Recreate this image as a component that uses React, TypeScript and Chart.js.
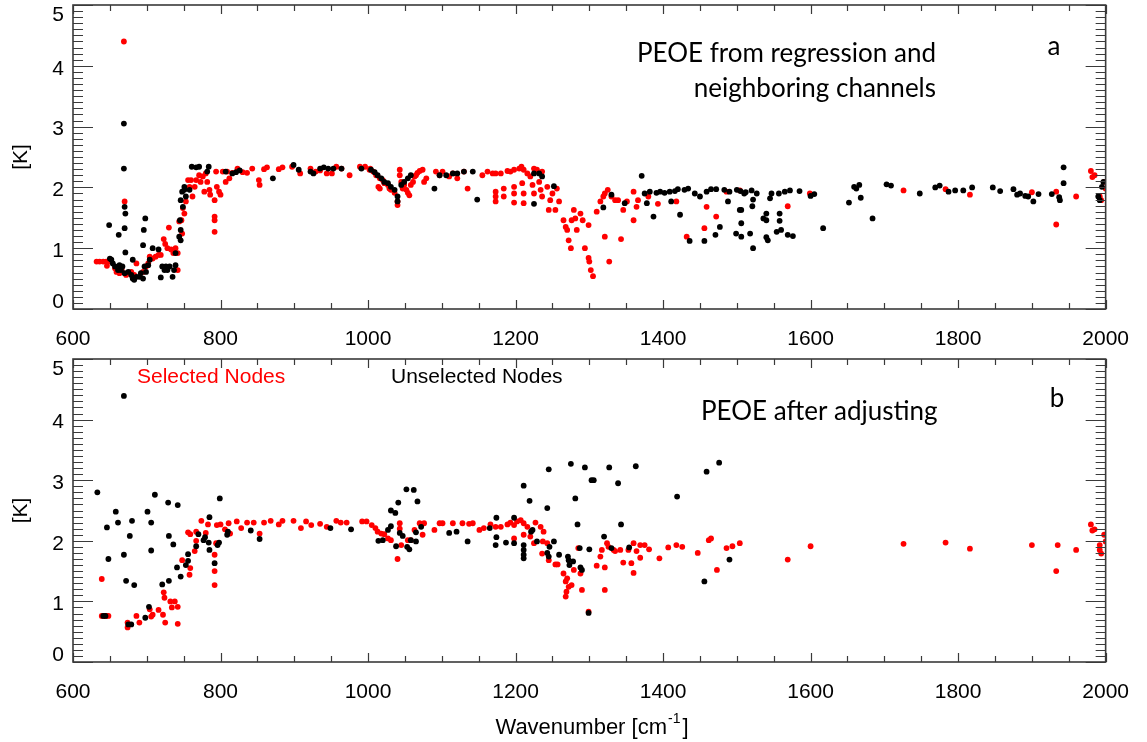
import React, { useEffect, useRef } from 'react';
import { Chart, registerables } from 'chart.js';

Chart.register(...registerables);

// ---------- axis ticks ----------
const X_TICKS = [600, 800, 1000, 1200, 1400, 1600, 1800, 2000];
const Y_TICKS = [0, 1, 2, 3, 4, 5];

// ---------- panel a: PEOE from regression and neighboring channels ----------
const TOP_RED_X = [
  632, 636, 641, 645, 650, 646, 657, 659, 663, 672, 679, 683, 686, 695, 699, 702, 704, 708, 712, 716,
  719, 723, 725, 728, 730, 733, 736, 739, 742, 742, 744, 747, 748, 749, 751, 753, 756, 758, 760, 762,
  765, 767, 771, 773, 776, 778, 780, 782, 785, 786, 792, 792, 792, 792, 794, 795, 798, 800, 803, 807,
  809, 812, 816, 823, 830, 836, 843, 852, 853, 859, 863, 879, 884, 897, 908, 922, 929, 935, 944, 951,
  957, 964, 975, 989, 996, 1003, 1014, 669, 670, 666,
  1002, 1007, 1011, 1016, 1016, 1020, 1022, 1027, 1029, 1031, 1036, 1040, 1040, 1043, 1043, 1045, 1047, 1049, 1052, 1054,
  1056, 1058, 1061, 1063, 1065, 1067, 1070, 1074, 1076, 1079, 1092, 1097, 1101, 1110, 1115, 1121, 1130, 1135, 1155, 1162,
  1169, 1173, 1180, 1189, 1193, 1198, 1205, 1208, 1211, 1216, 1225, 1229, 1236, 1173, 1173, 1173, 1184, 1184, 1198, 1198,
  1198, 1209, 1211, 1211, 1220, 1223, 1225, 1232, 1234, 1236, 1243, 1245, 1247, 1250, 1256, 1259, 1254,
  1265, 1268, 1270, 1272, 1275, 1276, 1279, 1281, 1283, 1288, 1291, 1294, 1299, 1299, 1300, 1302, 1305,
  1310, 1315, 1319, 1321, 1321, 1325, 1327, 1330, 1335, 1339, 1343, 1346, 1351, 1360, 1360, 1364, 1366, 1380, 1393, 1418,
  1432, 1456, 1459, 1472, 1486,
  1504, 1569, 1599, 1726, 1783, 1816, 1900, 1933, 1933, 1960, 1980, 1982, 1985, 1992, 1994, 1998, 2000
];
const TOP_RED_Y = [
  0.78, 0.78, 0.78, 0.78, 0.78, 0.71, 0.67, 0.61, 0.59, 0.56, 0.61, 0.56, 0.75, 0.61, 0.70, 0.75, 0.86, 0.83, 0.86, 0.89,
  0.89, 1.15, 1.07, 1.00, 1.34, 0.98, 0.92, 1.00, 0.92, 0.64, 1.44, 1.46, 1.24, 1.66, 1.57, 1.77, 2.12, 2.01, 2.12, 1.85,
  2.01, 2.12, 2.20, 2.09, 2.18, 1.93, 2.23, 2.09, 1.96, 1.88, 1.79, 1.52, 1.46, 1.27, 2.26, 2.01, 1.93, 1.88, 2.26, 2.09,
  2.26, 2.15, 2.24, 2.31, 2.25, 2.24, 2.31, 2.12, 2.04, 2.30, 2.33, 2.30, 2.33, 2.34, 2.23, 2.31, 2.26, 2.28, 2.23, 2.23,
  2.34, 2.31, 2.20, 2.34, 2.34, 2.31, 2.01, 4.40, 1.77, 0.65,
  2.29, 2.26, 2.20, 2.15, 1.98, 2.12, 2.07, 2.04, 1.98, 1.96, 1.91, 1.71, 1.77, 2.29, 2.20, 2.09, 1.98, 2.04, 1.96, 1.91,
  1.87, 2.04, 2.09, 2.18, 2.20, 2.24, 2.27, 2.29, 2.09, 2.15, 2.26, 2.20, 2.26, 2.18, 2.23, 2.15, 2.26, 1.98, 2.20, 2.26,
  2.23, 2.23, 2.23, 2.27, 2.26, 2.29, 2.31, 2.34, 2.29, 2.23, 2.31, 2.29, 2.26, 1.93, 1.85, 1.77, 1.98, 1.85, 2.01, 1.90,
  1.75, 2.07, 1.90, 1.74, 2.18, 2.04, 1.90, 2.09, 1.96, 1.85, 2.01, 1.63, 1.79, 1.90, 1.98, 1.77, 1.63,
  1.46, 1.35, 1.30, 1.13, 1.00, 1.46, 1.63, 1.49, 1.30, 1.57, 1.46, 1.00, 1.38, 0.84, 0.78, 0.64, 0.54,
  1.60, 1.77, 1.85, 1.90, 1.19, 1.96, 0.78, 1.85, 1.79, 1.79, 1.15, 1.63, 1.77, 1.93, 1.46, 1.68, 1.79, 1.85, 1.73, 1.77,
  1.19, 1.33, 1.68, 1.52, 1.93,
  1.95, 1.69, 1.90, 1.95, 1.97, 1.88, 1.92, 1.93, 1.39, 1.85, 2.27, 2.17, 2.20, 1.85, 1.79, 2.09, 1.98
];
const TOP_BLACK_X = [
  650, 652, 654, 657, 661, 663, 665, 667, 670, 675, 679, 681, 683, 686, 681, 690, 692, 695, 697, 699,
  702, 704, 649, 662, 669, 669, 670, 671, 670, 671, 698, 696, 695, 708, 716, 719, 721, 724, 726, 728,
  731, 735, 737, 739, 739, 744, 746, 746, 745, 746, 748, 751, 749, 751, 753, 758, 761, 767, 771, 784,
  782, 807, 816, 821, 826, 871, 899, 906, 922, 926, 935, 940, 946, 953, 964, 991,
  1004, 1009, 1013, 1018, 1022, 1027, 1031, 1036, 1040, 1040, 1045, 1049, 1054, 1058, 1090, 1097, 1106, 1115, 1121, 1130,
  1142, 1148, 1225, 1225, 1232, 1236, 1252, 1319, 1330, 1348, 1371, 1375, 1378, 1387, 1382, 1391, 1396, 1402, 1409, 1411,
  1416, 1420, 1423, 1429, 1434, 1436, 1443, 1450, 1456, 1459, 1465, 1471, 1472, 1477, 1483, 1488, 1490, 1499, 1506, 1506,
  1506, 1510,
  1500, 1505, 1512, 1520, 1527, 1504, 1518, 1522, 1522, 1521, 1536, 1540, 1540, 1540, 1542, 1545, 1547, 1557, 1558, 1558,
  1554, 1560, 1569, 1576, 1565, 1572, 1585, 1600, 1605, 1617, 1652, 1659, 1662, 1666, 1668, 1684, 1703, 1709, 1748, 1769,
  1775, 1787, 1796, 1807, 1819, 1847, 1857, 1875, 1880, 1884, 1891, 1895, 1902, 1909, 1927, 1937, 1938, 1943, 1943, 1990,
  1992, 1995, 1997
];
const TOP_BLACK_Y = [
  0.83, 0.81, 0.75, 0.70, 0.64, 0.72, 0.64, 0.70, 0.59, 0.61, 0.56, 0.50, 0.48, 0.53, 0.81, 0.53, 0.59, 0.50, 0.70, 0.61,
  0.72, 0.81, 1.38, 1.22, 3.05, 2.31, 1.68, 1.57, 1.33, 0.93, 1.49, 1.30, 1.05, 1.00, 0.98, 0.52, 0.70, 0.64, 0.70, 0.64,
  0.70, 0.53, 0.64, 0.72, 0.92, 1.19, 1.13, 1.30, 1.46, 1.79, 1.93, 1.96, 1.68, 2.01, 1.85, 1.96, 2.34, 2.33, 2.34, 2.34,
  2.26, 2.26, 2.23, 2.25, 2.28, 2.15, 2.37, 2.29, 2.26, 2.23, 2.31, 2.33, 2.31, 2.31, 2.31, 2.31,
  2.29, 2.25, 2.20, 2.15, 2.09, 2.07, 2.01, 1.96, 1.85, 1.77, 2.04, 2.09, 2.15, 2.20, 1.98, 2.20, 2.20, 2.23, 2.23, 2.26,
  2.26, 1.80, 1.73, 2.23, 2.23, 2.18, 2.02, 1.67, 1.88, 1.74, 2.19, 1.90, 1.74, 1.52, 1.93, 1.91, 1.93, 1.91, 1.93, 1.77,
  1.94, 1.97, 1.55, 1.96, 1.98, 1.12, 1.90, 1.85, 1.12, 1.93, 1.97, 1.22, 1.97, 1.35, 1.96, 1.77, 1.93, 1.24, 1.63, 1.41,
  1.19, 1.90,
  1.96, 1.94, 1.92, 1.95, 1.90, 1.63, 1.24, 1.00, 1.80, 1.69, 1.49, 1.46, 1.57, 1.18, 1.13, 1.82, 1.90, 1.90, 1.57, 1.45,
  1.27, 1.30, 1.22, 1.20, 1.93, 1.95, 1.94, 1.86, 1.89, 1.33, 1.75, 2.01, 1.98, 2.04, 1.83, 1.49, 2.05, 2.03, 1.90, 2.00,
  2.03, 1.93, 1.95, 1.95, 2.00, 2.00, 1.94, 1.97, 1.88, 1.90, 1.86, 1.85, 1.77, 1.89, 1.89, 1.84, 1.79, 2.07, 2.33, 1.85,
  1.79, 2.01, 2.09
];

// ---------- panel b: PEOE after adjusting ----------
const BOT_RED_X = [
  639, 639, 642, 645, 648, 674, 674, 686, 690, 704, 706, 708, 716, 722, 723, 724, 725, 732, 734, 738,
  742, 742, 748, 758, 759, 756, 759, 765, 767, 767, 774, 780, 783, 792, 792, 792, 794, 795, 800, 806,
  811, 813, 822, 828, 836, 845, 853, 859, 868, 879, 884, 899, 909, 916, 923, 935, 944, 957, 963, 971,
  992, 998, 1005, 1010,
  1013, 1018, 1022, 1027, 1031, 1040, 1043, 1043, 1045, 1054, 1058, 1063, 1070, 1074, 1076, 1090, 1097, 1101, 1115, 1128,
  1137, 1142, 1151, 1157, 1166, 1173, 1180, 1189, 1193, 1198, 1202, 1207, 1211, 1216, 1198, 1211, 1220, 1225, 1227, 1234,
  1238, 1237, 1243, 1236, 1245, 1254, 1257, 1265, 1268, 1269, 1268, 1272, 1276, 1270, 1279, 1288, 1290, 1285, 1299, 1310,
  1315, 1317, 1321, 1321, 1324, 1326, 1333, 1335, 1342, 1346, 1353, 1357, 1360, 1360, 1364, 1369, 1369, 1375, 1381, 1395,
  1407, 1418, 1426, 1447, 1462, 1465, 1473, 1486, 1494, 1504,
  1569, 1600, 1726, 1783, 1816, 1900, 1933, 1935, 1960, 1980, 1982, 1985, 1992, 1992, 1994, 1998, 2000
];
const BOT_RED_Y = [
  1.37, 0.76, 0.76, 0.76, 0.76, 0.65, 0.57, 0.76, 0.65, 0.87, 0.75, 0.78, 0.86, 0.78, 1.15, 1.06, 0.65, 1.00, 0.90, 1.00,
  0.91, 0.63, 1.68, 1.44, 1.55, 2.14, 2.11, 1.83, 2.00, 2.15, 2.33, 2.13, 2.27, 1.77, 1.50, 1.27, 1.96, 2.26, 2.27, 2.19,
  2.29, 2.12, 2.32, 2.21, 2.30, 2.30, 2.12, 2.30, 2.33, 2.27, 2.33, 2.33, 2.21, 2.32, 2.26, 2.28, 2.23, 2.33, 2.30, 2.30,
  2.32, 2.32, 2.26, 2.21,
  2.15, 2.12, 2.11, 2.04, 2.01, 1.70, 2.29, 2.20, 1.93, 2.01, 2.01, 2.18, 2.29, 2.10, 2.29, 2.18, 2.29, 2.29, 2.29, 2.29,
  2.28, 2.29, 2.18, 2.21, 2.27, 2.23, 2.23, 2.27, 2.30, 2.26, 2.32, 2.34, 2.29, 2.23, 2.04, 2.10, 2.07, 1.96, 2.30, 2.23,
  2.15, 1.99, 1.96, 1.79, 1.68, 1.61, 1.61, 1.46, 1.33, 1.16, 1.08, 1.24, 1.27, 1.38, 1.52, 1.46, 1.19, 1.88, 0.83, 1.59,
  1.74, 1.85, 1.56, 1.19, 1.96, 1.90, 1.85, 1.83, 1.85, 1.64, 1.85, 1.63, 1.47, 1.96, 1.83, 1.72, 1.93, 1.93, 1.86, 1.71,
  1.89, 1.93, 1.90, 1.80, 2.01, 2.04, 1.52, 1.88, 1.91, 1.96,
  1.69, 1.91, 1.95, 1.97, 1.87, 1.93, 1.50, 1.93, 1.85, 2.27, 2.17, 2.19, 1.93, 1.85, 1.79, 2.10, 1.99
];
const BOT_BLACK_X = [
  669, 633, 646, 648, 658, 661, 669, 672, 677, 680, 683, 679, 701, 706, 706, 703, 698, 711, 721, 729,
  730, 730, 736, 742, 741, 746, 756, 756, 753, 767, 770, 777, 779, 785, 785, 784, 792, 796, 798, 799,
  809, 810, 841, 853, 949, 977, 1014, 641, 644, 675,
  1020, 1027, 1031, 1031, 1037, 1041, 1038, 1043, 1047, 1052, 1053, 1056, 1058, 1062, 1065, 1065, 1067, 1072, 1110, 1120,
  1135, 1165, 1174, 1174, 1173, 1187, 1198, 1198, 1211, 1211, 1211, 1211, 1211, 1219, 1221, 1223, 1229, 1243, 1245, 1243,
  1246, 1245, 1252, 1259, 1271, 1272, 1273, 1275, 1278, 1281, 1284, 1287, 1288, 1290, 1294, 1299, 1300, 1303, 1306, 1320,
  1327, 1330, 1339, 1343, 1354, 1363, 1419, 1456, 1459, 1476, 1490
];
const BOT_BLACK_Y = [
  4.39, 2.80, 2.22, 1.70, 2.48, 2.30, 1.77, 1.34, 2.08, 2.33, 1.27, 0.62, 2.48, 2.30, 1.84, 0.91, 0.73, 2.76, 1.28, 2.63,
  2.08, 1.34, 1.94, 2.59, 1.56, 1.41, 1.78, 1.67, 1.60, 1.91, 2.11, 2.01, 2.06, 2.39, 1.85, 1.97, 1.63, 1.93, 1.97, 2.70,
  2.10, 2.15, 2.17, 2.03, 2.21, 2.19, 2.00, 0.76, 0.76, 0.62,
  2.01, 2.18, 2.24, 2.50, 2.46, 2.63, 1.91, 2.13, 2.08, 2.85, 1.90, 1.86, 2.01, 2.84, 2.14, 1.99, 2.65, 2.23, 2.13, 2.15,
  1.99, 2.21, 2.38, 2.06, 1.93, 1.97, 2.38, 1.96, 2.91, 1.93, 1.85, 1.77, 1.71, 2.66, 2.15, 2.18, 1.99, 2.54, 3.18, 1.80,
  1.90, 1.74, 1.99, 1.77, 1.74, 1.68, 1.60, 3.27, 1.66, 2.70, 2.27, 1.88, 1.56, 1.52, 3.21, 0.81, 1.86, 3.00, 3.00, 2.07,
  3.21, 1.88, 2.95, 2.27, 1.89, 3.23, 2.73, 1.33, 3.14, 3.29, 1.69
];

const RED = '#ff0000';
const BLACK = '#000000';
const SANS = '"Liberation Sans", Arial, Helvetica, sans-serif';
const TICK_FONT = `21px ${SANS}`;
const NOTE_FONT = '26px Lato, "Open Sans", sans-serif';

const W = 1147;
const H_TOP = 355;
const H_BOT = 387;

const toPoints = (xs: number[], ys: number[]) => xs.map((x, i) => ({ x, y: ys[i] }));

const idlFrame = {
  id: 'idlFrame',
  afterDatasetsDraw(chart: any, _args: any, opts: any) {
    const { ctx, chartArea: a, scales } = chart;
    const xs = scales.x;
    const ys = scales.y;
    ctx.save();
    ctx.strokeStyle = '#3a3a3a';
    ctx.lineWidth = 1.2;
    ctx.beginPath();
    for (let i = 0; i <= 50; i++) {
      const y = Math.round(ys.getPixelForValue(i / 10)) + 0.5;
      const len = i % 10 === 0 ? 20 : 10;
      ctx.moveTo(a.left, y);
      ctx.lineTo(a.left + len, y);
      ctx.moveTo(a.right, y);
      ctx.lineTo(a.right - len, y);
    }
    for (let v = 600; v <= 2000; v += 50) {
      const x = Math.round(xs.getPixelForValue(v)) + 0.5;
      const len = v % 200 === 0 ? 9 : 6;
      ctx.moveTo(x, a.bottom);
      ctx.lineTo(x, a.bottom - len);
      ctx.moveTo(x, a.top);
      ctx.lineTo(x, a.top + len);
    }
    ctx.stroke();
    ctx.lineWidth = 1.6;
    ctx.strokeRect(a.left, a.top, a.right - a.left, a.bottom - a.top);

    ctx.fillStyle = '#000';
    ctx.font = TICK_FONT;
    ctx.textAlign = 'right';
    ctx.textBaseline = 'middle';
    for (const v of Y_TICKS) {
      const y = Math.min(Math.max(ys.getPixelForValue(v) + 3, a.top + 10), a.bottom - 7);
      ctx.fillText(String(v), a.left - 9, y);
    }

    ctx.textBaseline = 'alphabetic';
    for (const t of (opts && opts.texts) || []) {
      ctx.font = t.font;
      ctx.fillStyle = t.color || '#000';
      ctx.textAlign = t.align || 'left';
      ctx.fillText(t.text, t.x, t.y);
    }
    if (opts && opts.xTitle) {
      const xt = opts.xTitle;
      const big = `22px ${SANS}`;
      const small = `14px ${SANS}`;
      ctx.textAlign = 'left';
      ctx.font = big;
      const w1 = ctx.measureText(xt.main).width;
      const w3 = ctx.measureText(']').width;
      ctx.font = small;
      const w2 = ctx.measureText(xt.sup).width;
      let x = xt.cx - (w1 + w2 + w3 + 3) / 2;
      ctx.fillStyle = '#000';
      ctx.font = big;
      ctx.fillText(xt.main, x, xt.y);
      x += w1 + 1;
      ctx.font = small;
      ctx.fillText(xt.sup, x, xt.y - 11);
      x += w2 + 2;
      ctx.font = big;
      ctx.fillText(']', x, xt.y);
    }
    ctx.restore();
  },
};

function makeConfig(
  redX: number[], redY: number[], blackX: number[], blackY: number[],
  canvasH: number, areaTop: number, areaBottom: number, decor: any
): any {
  return {
    type: 'scatter',
    data: {
      datasets: [
        {
          label: 'Unselected Nodes',
          data: toPoints(blackX, blackY),
          backgroundColor: BLACK,
          borderWidth: 0,
          pointRadius: 2.9,
        },
        {
          label: 'Selected Nodes',
          data: toPoints(redX, redY),
          backgroundColor: RED,
          borderWidth: 0,
          pointRadius: 2.9,
        },
      ],
    },
    options: {
      responsive: false,
      animation: false,
      events: [],
      devicePixelRatio: 1,
      layout: { padding: { left: 0, top: areaTop, right: 36, bottom: 0 } },
      plugins: {
        legend: { display: false },
        tooltip: { enabled: false },
        idlFrame: decor,
      },
      scales: {
        x: {
          type: 'linear',
          min: 600,
          max: 2000,
          grid: { display: false, drawTicks: false },
          border: { display: false },
          afterBuildTicks: (s: any) => { s.ticks = X_TICKS.map((v) => ({ value: v })); },
          afterFit: (s: any) => { s.height = canvasH - areaBottom; },
          ticks: {
            autoSkip: false,
            maxRotation: 0,
            padding: 18,
            color: '#000',
            callback: (v: any) => String(v),
            font: { family: SANS, size: 21 },
          },
        },
        y: {
          type: 'linear',
          min: 0,
          max: 5,
          grid: { display: false, drawTicks: false },
          border: { display: false },
          afterBuildTicks: (s: any) => { s.ticks = Y_TICKS.map((v) => ({ value: v })); },
          afterFit: (s: any) => { s.width = 73; },
          ticks: { display: false },
          title: {
            display: true,
            text: '[K]',
            color: '#000',
            padding: { top: 9, bottom: 0 },
            font: { family: SANS, size: 21 },
          },
        },
      },
    },
    plugins: [idlFrame],
  };
}

export default function App() {
  const topRef = useRef<HTMLCanvasElement>(null);
  const botRef = useRef<HTMLCanvasElement>(null);

  useEffect(() => {
    const topDecor = {
      texts: [
        { text: 'PEOE from regression and', x: 936, y: 62, font: NOTE_FONT, align: 'right' },
        { text: 'neighboring channels', x: 936, y: 97, font: NOTE_FONT, align: 'right' },
        { text: 'a', x: 1054, y: 55, font: NOTE_FONT, align: 'center' },
      ],
    };
    const botDecor = {
      texts: [
        { text: 'Selected Nodes', x: 137, y: 28, font: TICK_FONT, color: RED, align: 'left' },
        { text: 'Unselected Nodes', x: 391, y: 28, font: TICK_FONT, color: BLACK, align: 'left' },
        { text: 'PEOE after adjusting', x: 701, y: 65, font: NOTE_FONT, align: 'left' },
        { text: 'b', x: 1057, y: 52, font: NOTE_FONT, align: 'center' },
      ],
      xTitle: { main: 'Wavenumber [cm', sup: '-1', cx: 592, y: 379 },
    };
    const c1 = new Chart(topRef.current as HTMLCanvasElement,
      makeConfig(TOP_RED_X, TOP_RED_Y, TOP_BLACK_X, TOP_BLACK_Y, H_TOP, 5, 309, topDecor));
    const c2 = new Chart(botRef.current as HTMLCanvasElement,
      makeConfig(BOT_RED_X, BOT_RED_Y, BOT_BLACK_X, BOT_BLACK_Y, H_BOT, 4, 307, botDecor));
    return () => {
      c1.destroy();
      c2.destroy();
    };
  }, []);

  return (
    <div style={{ position: 'absolute', left: 0, top: 0, width: W, height: H_TOP + H_BOT, background: '#fff', overflow: 'hidden' }}>
      <canvas ref={topRef} width={W} height={H_TOP} style={{ position: 'absolute', left: 0, top: 0, width: W, height: H_TOP }} />
      <canvas ref={botRef} width={W} height={H_BOT} style={{ position: 'absolute', left: 0, top: H_TOP, width: W, height: H_BOT }} />
    </div>
  );
}
